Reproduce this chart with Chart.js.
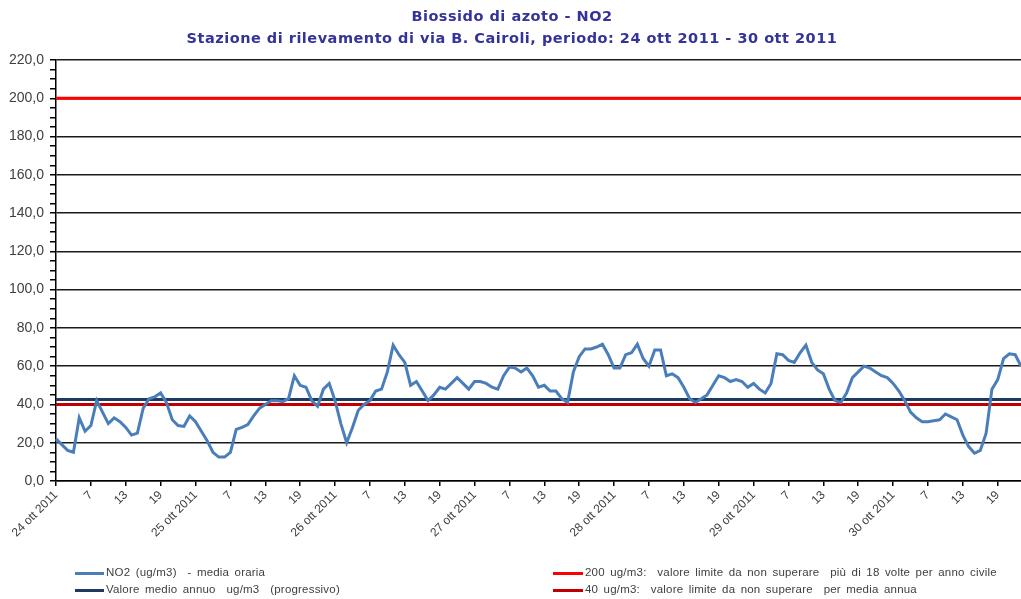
<!DOCTYPE html>
<html>
<head>
<meta charset="utf-8">
<script src="https://cdn.jsdelivr.net/npm/chart.js@4.4.1/dist/chart.umd.min.js"></script>
<style>
    body { margin: 0; background: #fff; }
    #wrap { position: relative; width: 1021px; height: 599px; overflow: hidden; }
    #chart { position: absolute; left: 0; top: 0; }
    .title { position: absolute; left: 0; width: 1024px; text-align: center; font-family: "DejaVu Sans", sans-serif; font-weight: bold; font-size: 14.5px; letter-spacing: 0.5px; color: #333399; white-space: nowrap; }
    .leg { position: absolute; font-family: "Liberation Sans", Arial, sans-serif; font-size: 11.5px; letter-spacing: 0.2px; color: #404040; white-space: nowrap; word-spacing: 2px; }
    .leg span { position: absolute; top: 6px; height: 3px; }
</style>
</head>
<body>
<div id="wrap">
    <canvas id="chart" width="1021" height="599"></canvas>
    <div class="title" style="top: 8px;">Biossido di azoto - NO2</div>
    <div class="title" style="top: 30px;">Stazione di rilevamento di via B. Cairoli, periodo: 24 ott 2011 - 30 ott 2011</div>
    <div class="leg" style="left: 106px; top: 566px;"><span style="left: -31px; width: 29px; background: #4A7EBB;"></span>NO2 (ug/m3)&nbsp; - media oraria</div>
    <div class="leg" style="left: 106px; top: 583px;"><span style="left: -31px; width: 29px; background: #1F3A5F;"></span>Valore medio annuo&nbsp; ug/m3&nbsp; (progressivo)</div>
    <div class="leg" style="left: 585px; top: 566px;"><span style="left: -32px; width: 30px; background: #FF0000;"></span>200 ug/m3:&nbsp; valore limite da non superare&nbsp; più di 18 volte per anno civile</div>
    <div class="leg" style="left: 585px; top: 583px;"><span style="left: -32px; width: 30px; background: #C00000;"></span>40 ug/m3:&nbsp; valore limite da non superare&nbsp; per media annua</div>
</div>
<script>
const days = ['24 ott 2011', '25 ott 2011', '26 ott 2011', '27 ott 2011', '28 ott 2011', '29 ott 2011', '30 ott 2011'];

// NO2 hourly values (ug/m3), one row per day
const no2 = [
    22, 19, 16, 15, 33, 26, 29, 42, 36, 30, 33, 31, 28, 24, 25, 38, 43, 44, 46, 41, 32, 29, 28.5, 34,
    31, 26, 21, 15, 12.5, 12.5, 15, 27, 28, 29.5, 34, 38, 40, 42, 42, 41.5, 43, 55, 50, 49, 42, 39, 48, 51,
    42, 30, 20, 28, 37, 40, 42, 47, 48, 57, 71, 66, 62, 50, 52, 47, 42, 45, 49, 48, 51, 54, 51, 48,
    52, 52, 51, 49, 48, 55, 59.5, 59, 57, 59, 55, 49, 50, 47, 47, 43, 41, 57, 65, 69, 69, 70, 71.5, 66,
    59, 59, 66, 67, 71.5, 64, 60, 68.5, 68.5, 55, 56, 54, 49, 43, 41, 43, 45, 50, 55, 54, 52, 53, 52, 49,
    51, 48, 46, 51, 66.5, 66, 63, 62, 67, 71, 62, 58, 56, 48, 42, 41, 46, 54, 57, 60, 59, 57, 55, 54,
    51, 47, 42, 36, 33, 31, 31, 31.5, 32, 35, 33.5, 32, 24, 18, 14.5, 16, 25, 48, 53, 64, 66.5, 66, 60
];

const meanValue = 42.6;   // valore medio annuo (progressivo)
const limitHourly = 200;
const limitAnnual = 40;

const yMin = 0;
const yMax = 220;

document.addEventListener('DOMContentLoaded', function() {
    // category labels: the day name at hour 1, then the hour number
    const labels = [];
    days.forEach(day => {
        for (let h = 1; h <= 24; h++) {
            labels.push(h === 1 ? day : String(h));
        }
    });
    labels.length = no2.length;

    const lastIdx = labels.length - 1;

    // horizontal reference lines go on a hidden linear axis spanning the same hours
    const hline = (value) => [{ x: 0, y: value }, { x: lastIdx, y: value }];

    const ctx = document.getElementById('chart').getContext('2d');
    new Chart(ctx, {
        type: 'line',
        data: {
            labels,
            datasets: [
                {
                    label: 'NO2 (ug/m3)  - media oraria',
                    data: no2,
                    borderColor: '#4A7EBB',
                    borderWidth: 3,
                    pointRadius: 0,
                    tension: 0
                },
                {
                    label: 'Valore medio annuo  ug/m3  (progressivo)',
                    data: hline(meanValue),
                    xAxisID: 'xLine',
                    borderColor: '#1F3A5F',
                    borderWidth: 3,
                    pointRadius: 0
                },
                {
                    label: '200 ug/m3',
                    data: hline(limitHourly),
                    xAxisID: 'xLine',
                    borderColor: '#FF0000',
                    borderWidth: 3,
                    pointRadius: 0
                },
                {
                    label: '40 ug/m3',
                    data: hline(limitAnnual),
                    xAxisID: 'xLine',
                    borderColor: '#C00000',
                    borderWidth: 3,
                    pointRadius: 0
                }
            ]
        },
        options: {
            responsive: false,
            animation: false,
            layout: { padding: { top: 60, left: 0, right: 0, bottom: 0 } },
            plugins: {
                legend: { display: false },
                tooltip: { enabled: false }
            },
            scales: {
                x: {
                    offset: false,
                    afterFit: scale => {
                        scale.height = 118;
                        scale.paddingRight = 0;
                    },
                    border: { color: '#000', width: 1.5 },
                    grid: {
                        drawOnChartArea: false,
                        tickLength: 5,
                        tickColor: c => (c.index % 6 === 0 ? '#000' : 'rgba(0,0,0,0)'),
                        lineWidth: 1.5
                    },
                    ticks: {
                        autoSkip: false,
                        minRotation: 45,
                        maxRotation: 45,
                        padding: 2,
                        color: '#404040',
                        font: { family: 'Liberation Sans', size: 12 },
                        callback: (val, i) => (i % 6 === 0 ? labels[i] : '')
                    }
                },
                xLine: {
                    type: 'linear',
                    display: false,
                    min: 0,
                    max: lastIdx
                },
                y: {
                    min: yMin,
                    max: yMax,
                    afterFit: scale => { scale.width = 56; },
                    border: { color: '#000', width: 1.5 },
                    grid: {
                        color: c => (c.tick && c.tick.value % 20 === 0 ? '#1a1a1a' : 'rgba(0,0,0,0)'),
                        tickColor: '#000',
                        tickLength: 6,
                        lineWidth: 1.5
                    },
                    ticks: {
                        stepSize: 5,
                        autoSkip: false,
                        padding: 6,
                        color: '#404040',
                        font: { family: 'Liberation Sans', size: 14 },
                        callback: v => (v % 20 === 0 ? v.toFixed(1).replace('.', ',') : '')
                    }
                }
            }
        }
    });
});
</script>
</body>
</html>
